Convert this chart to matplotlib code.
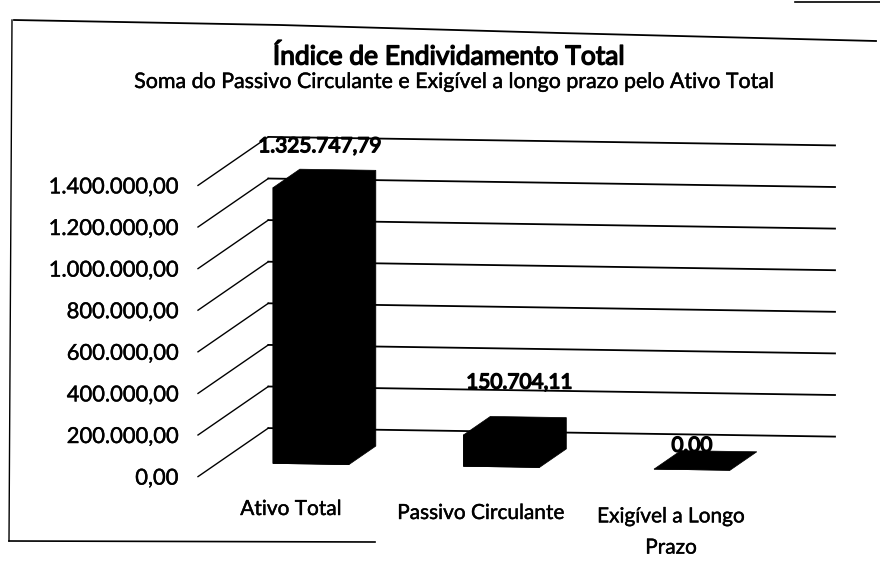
import matplotlib
matplotlib.use("Agg")
import matplotlib.pyplot as plt
import matplotlib.patheffects as pe
from matplotlib.lines import Line2D
from matplotlib.patches import Polygon
from matplotlib.transforms import Affine2D, IdentityTransform

# Data
title = "Índice de Endividamento Total"
subtitle = "Soma do Passivo Circulante e Exigível a longo prazo pelo Ativo Total"
categories = ["Ativo Total", "Passivo Circulante", "Exigível a Longo\nPrazo"]
values = [1325747.79, 150704.11, 0.0]
value_labels = ["1.325.747,79", "150.704,11", "0,00"]
ticks = [0, 200000, 400000, 600000, 800000, 1000000, 1200000, 1400000]
tick_labels = ["0,00", "200.000,00", "400.000,00", "600.000,00", "800.000,00",
               "1.000.000,00", "1.200.000,00", "1.400.000,00"]

W, H = 880, 573
plt.rcParams["font.family"] = ["Lato", "DejaVu Sans"]
fig = plt.figure(figsize=(W / 100, H / 100), dpi=100, facecolor="white")
ax = fig.add_axes([0, 0, 1, 1])
ax.axis("off")
ID = IdentityTransform()
HEAVY = [pe.withStroke(linewidth=0.3, foreground="black")]
BOLD = [pe.withStroke(linewidth=1.0, foreground="black")]

# Scales: category spacing and value scale, in pixels
CX, STEP, BAR_W = 311.0, 190.5, 76.0 / 190.5
BASE, K = 464.0, 41.6 / 200000
ax.set_xlim(-CX / STEP, (W - CX) / STEP)
ax.set_ylim(-(H - BASE) / K, BASE / K)

SLOPE = 0.015
tilt = Affine2D.from_values(1, -SLOPE, 0, 1, 0, SLOPE * CX)
T = ax.transData + tilt


def depth(d):
    return Affine2D().translate(1.45 * d, d)


def cat(px):
    return (px - CX) / STEP


def pix(px, py):
    return (px, H - py)


D_FRONT, D_BAR, D_WALL = -14.0, 18.5, 34.5
FRONT_X, WALL_END = 198.0, 835.0
wall_start = FRONT_X + 1.45 * (D_WALL - D_FRONT)

# Wall gridlines and depth ticks
for v, lab in zip(ticks, tick_labels):
    p0 = (T + depth(D_FRONT)).transform((cat(FRONT_X + 1.45 * -D_FRONT), v))
    p1 = (T + depth(D_WALL)).transform((cat(wall_start - 1.45 * D_WALL), v))
    p2 = (T + depth(D_WALL)).transform((cat(WALL_END - 1.45 * D_WALL), v))
    ax.add_line(Line2D([p0[0], p1[0]], [p0[1], p1[1]], color="black", lw=1.0,
                       transform=ID, zorder=1))
    ax.add_line(Line2D([p1[0], p2[0]], [p1[1], p2[1]], color="black", lw=1.3,
                       transform=ID, zorder=1))
    ax.text(178, p0[1] - 2, lab, ha="right", va="center", fontsize=15.8,
            color="black", transform=ID, path_effects=HEAVY)

# Bars: front faces, then the depth silhouette
xs = list(range(len(categories)))
ax.bar(xs, values, width=BAR_W, color="black", edgecolor="black", lw=0.5,
       transform=T, zorder=3)
for x, v in zip(xs, values):
    l, r = x - BAR_W / 2, x + BAR_W / 2
    F, B = T, T + depth(D_BAR)
    pts = [F.transform((l, 0)), F.transform((r, 0)), B.transform((r, 0)),
           B.transform((r, v)), B.transform((l, v)), F.transform((l, v))]
    ax.add_patch(Polygon(pts, closed=True, facecolor="black", edgecolor="black",
                         lw=0.5, transform=ID, zorder=3))

# Value labels (placed by hand in the original)
label_offsets = [(9, 42), (18, 53), (0, 24)]
for x, v, lab, (dx, dy) in zip(xs, values, value_labels, label_offsets):
    p = T.transform((x, v))
    ax.text(p[0] + dx, p[1] + dy, lab, ha="center", va="center", fontsize=15,
            color="black", transform=ID, zorder=4, path_effects=BOLD)

# Category labels
cat_x = [291, 481, 671]
cat_y = [509, 513, 532]
for px, py, lab in zip(cat_x, cat_y, categories):
    ax.text(*pix(px, py), lab, ha="center", va="center", fontsize=15, color="black",
            transform=ID, linespacing=1.7, path_effects=HEAVY)

# Titles
ax.text(*pix(449, 57), title, ha="center", va="center", fontsize=19,
        transform=ID, path_effects=BOLD)
ax.text(*pix(455, 82), subtitle, ha="center", va="center", fontsize=15.4,
        transform=ID, path_effects=HEAVY)

# Chart-area border as it appears on the scan
border = [
    ([14, 280, 560, 876], [20, 25, 33, 41], 1.3),
    ([12, 9], [20, 541], 1.0),
    ([9, 375], [541, 542], 1.2),
    ([795, 880], [2, 2], 1.2),
]
for xp, yp, lw in border:
    ax.add_line(Line2D(xp, [H - y for y in yp], color="black", lw=lw, transform=ID))

fig.savefig("out.png", dpi=100, facecolor="white")
